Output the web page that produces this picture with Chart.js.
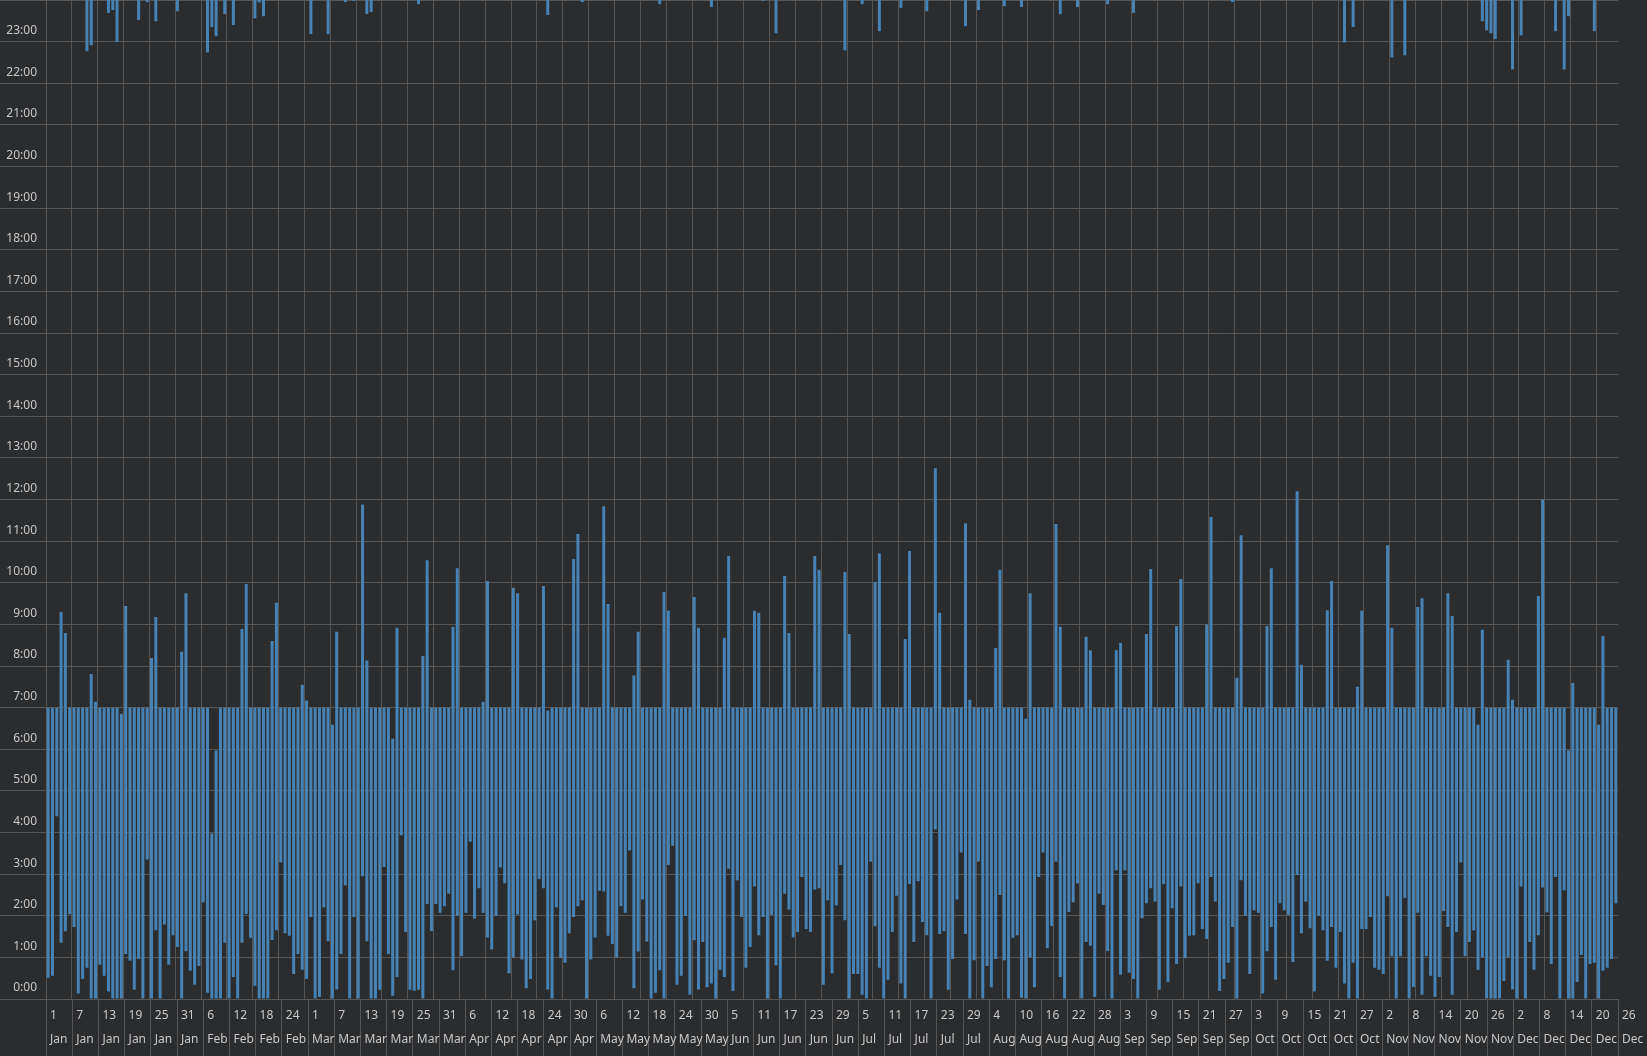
<!DOCTYPE html>
<html>
<head>
<meta charset="utf-8">
<script src="https://cdn.jsdelivr.net/npm/chart.js@4/dist/chart.umd.min.js"></script>
<style>
  html, body { margin: 0; padding: 0; background: #2b2c2e; }
  #wrap { width: 1647px; height: 1056px; position: relative; }
</style>
</head>
<body>
<div id="wrap"><canvas id="c"></canvas></div>
<script>
// Tick labels shown under the chart (every 6th day)
const tickLabels = ['1 Jan','7 Jan','13 Jan','19 Jan','25 Jan','31 Jan','6 Feb','12 Feb','18 Feb','24 Feb',
  '1 Mar','7 Mar','13 Mar','19 Mar','25 Mar','31 Mar','6 Apr','12 Apr','18 Apr','24 Apr','30 Apr',
  '6 May','12 May','18 May','24 May','30 May','5 Jun','11 Jun','17 Jun','23 Jun','29 Jun',
  '5 Jul','11 Jul','17 Jul','23 Jul','29 Jul','4 Aug','10 Aug','16 Aug','22 Aug','28 Aug',
  '3 Sep','9 Sep','15 Sep','21 Sep','27 Sep','3 Oct','9 Oct','15 Oct','21 Oct','27 Oct',
  '2 Nov','8 Nov','14 Nov','20 Nov','26 Nov','2 Dec','8 Dec','14 Dec','20 Dec','26 Dec'];

// Hour (0-24) at which sleep begins after midnight, one per day
const sleepStart = [
  0.51,0.56,4.39,1.35,1.63,2.04,1.73,0.13,0.48,0.75,
  0,0,0.82,0.56,0.18,0,0,0,1.08,0.92,
  0.22,0.96,0,3.35,0,1.65,0,1.79,0.82,1.53,
  1.25,0,1.15,0.68,0.34,0.79,2.32,0.15,0,0,
  0,1.35,0,0.53,0,1.35,2.04,1.47,0.32,0,
  0,0,1.42,1.65,3.28,1.58,1.52,0.6,1.08,0.7,
  0.48,1.97,0,0.05,2.2,1.39,0,0.23,1.08,2.73,
  0,1.97,0,2.95,1.39,0,0,0.22,3.17,1.08,
  0.08,0.53,3.93,1.61,0.22,0.2,0.22,0,2.28,1.63,
  2.28,2.07,2.23,2.53,0.69,2.0,1.03,2.07,3.78,1.93,
  2.66,2.07,1.48,1.19,2.0,3.16,2.78,0.62,1.0,2.03,
  0.95,0.26,0.48,1.89,2.88,2.66,0.23,0,2.2,0.98,
  0.87,1.58,1.97,2.23,2.37,0,0.95,1.48,2.6,2.58,
  1.52,1.32,1.0,2.23,2.07,3.57,0.26,1.14,2.39,1.38,
  0,0.15,0.69,0,3.22,3.68,0.34,0.56,2.0,0.1,
  1.41,0.23,1.37,0.28,0.37,0,0.7,0.53,3.13,0.19,
  2.85,1.97,0.75,1.25,2.7,1.53,1.97,0,2.02,0.81,
  0,2.53,2.15,1.48,1.61,2.93,1.68,1.61,2.63,2.66,
  0.34,2.37,0.62,2.25,3.22,1.89,0,0.6,0.6,0.1,
  0,3.3,1.75,0.75,0,0.46,1.61,2.48,0.37,0,
  2.76,1.37,2.83,1.85,1.53,0,4.07,1.56,1.63,0.22,
  0.96,2.39,3.52,1.56,0,0.93,3.3,0,0.79,0.28,
  0.96,2.5,0.93,0,1.47,1.53,0.03,0,1.0,0.28,
  2.93,3.52,1.22,1.75,3.3,0.53,0,2.09,2.32,2.78,
  0,1.37,1.28,0.05,2.53,2.26,1.15,0,3.09,0.58,
  3.09,0.63,0.48,0,1.94,2.3,2.66,2.34,0.22,2.76,
  0.41,2.18,0.84,2.7,0.98,1.52,1.53,2.78,1.68,1.44,
  2.93,2.34,0.19,0.48,0.87,1.73,0,2.85,2.0,0.6,
  2.13,2.07,0.13,1.15,1.73,0.46,2.3,2.13,2.02,0.89,
  2.98,1.58,2.34,1.7,0.18,2.0,1.65,0.92,1.73,0.75,
  1.61,0.37,0,0.87,0,1.68,1.68,1.97,0.75,0.7,
  0.6,2.47,1.03,0,1.03,2.43,0,0.29,2.07,0.1,
  1.03,0.56,0.05,0.53,2.11,1.73,0.1,1.61,3.28,1.03,
  1.37,1.65,0.7,1.0,0,0,0,0,0.43,1.0,
  0.23,0,2.7,0,1.37,0.7,1.53,2.68,2.08,0.84,
  2.93,0,2.61,0,0,0.41,1.06,0,0.84,0.87,
  0,0.68,0.75,0.96,2.3
];

// Hour at which sleep ends, one per day
const wakeTime = [
  7,7,7,9.3,8.79,7,7,7,7,7,
  7.81,7.14,7,7,7,7,7,6.85,9.44,7,
  7,7,7,7,8.19,9.18,7,7,7,7,
  7,8.34,9.75,7,7,7,7,7,3.98,5.97,
  7,7,7,7,7,8.89,9.97,7,7,7,
  7,7,8.6,9.52,7,7,7,7,7,7.55,
  7.17,7,7,7,7,7,6.59,8.82,7,7,
  7,7,7,11.88,8.13,7,7,7,7,7,
  6.25,8.92,7,7,7,7,7,8.24,10.54,7,
  7,7,7,7,8.94,10.35,7,7,7,7,
  7,7.14,10.04,7,7,7,7,7,9.88,9.75,
  7,7,7,7,7,9.92,6.93,7,7,7,
  7,7,10.57,11.17,7,7,7,7,7,11.84,
  9.49,7,7,7,7,7,7.77,8.82,7,7,
  7,7,7,9.78,9.33,7,7,7,7,7,
  9.66,8.92,7,7,7,7,7,8.68,10.64,7,
  7,7,7,7,9.33,9.28,7,7,7,7,
  7,10.16,8.79,7,7,7,7,7,10.64,10.31,
  7,7,7,7,7,10.26,8.77,7,7,7,
  7,7,10.02,10.71,7,7,7,7,7,8.65,
  10.76,7,7,7,7,7,12.75,9.28,7,7,
  7,7,7,11.43,7.19,7,7,7,7,7,
  8.43,10.31,7,7,7,7,7,6.73,9.75,7,
  7,7,7,7,11.41,8.94,7,7,7,7,
  7,8.7,8.38,7,7,7,7,7,8.38,8.55,
  7,7,7,7,7,8.77,10.33,7,7,7,
  7,7,8.96,10.09,7,7,7,7,7,9.0,
  11.58,7,7,7,7,7,7.72,11.14,7,7,
  7,7,7,8.96,10.35,7,7,7,7,7,
  12.2,8.03,7,7,7,7,7,9.34,10.04,7,
  7,7,7,7,7.5,9.33,7,7,7,7,
  7,10.9,8.92,7,7,7,7,7,9.42,9.63,
  7,7,7,7,7,9.75,9.2,7,7,7,
  7,7,6.59,8.87,7,7,7,7,7,8.15,
  7.19,7,7,7,7,7,9.68,12.0,7,7,
  7,7,7,5.97,7.59,7,7,7,7,7,
  6.59,8.72,7,7,7
];

// Days on which sleep began before midnight, and the hour it began
const eveningDays  = [9,10,14,15,16,21,23,25,30,37,38,39,41,43,48,49,50,61,65,69,71,74,75,86,
  116,124,142,154,166,169,185,189,193,198,204,213,216,222,226,235,239,246,252,275,
  301,303,312,315,333,334,335,336,340,342,350,352,353,359];
const eveningStart = [22.77,22.91,23.69,23.76,22.99,23.52,23.95,23.49,23.73,22.74,23.35,23.13,23.66,23.4,23.56,23.94,23.61,23.18,23.18,23.95,23.98,23.66,23.71,23.9,
  23.64,23.95,23.9,23.83,23.98,23.2,22.79,23.9,23.25,23.81,23.73,23.37,23.76,23.85,23.83,23.66,23.83,23.9,23.69,23.95,
  22.98,23.35,22.62,22.67,23.49,23.27,23.2,23.06,22.33,23.15,23.25,22.33,23.61,23.25];

const BAR = '#4682b4';
const GRID = '#565656';
const TEXT = '#c8c8c8';
const FONT = 'Noto Sans';

const nightBars = sleepStart.map((s, i) => ({ x: i + 0.5, y: [s, wakeTime[i]] }));
const eveningBars = eveningDays.map((d, j) => ({ x: d + 0.5, y: [eveningStart[j], 24] }));

const barStyle = {
  backgroundColor: BAR, borderWidth: 0, grouped: false,
  barPercentage: 0.7, categoryPercentage: 1.0, xAxisID: 'x', yAxisID: 'y'
};

new Chart(document.getElementById('c'), {
  type: 'bar',
  data: {
    datasets: [
      Object.assign({ label: 'sleep', data: nightBars }, barStyle),
      Object.assign({ label: 'evening', data: eveningBars }, barStyle)
    ]
  },
  options: {
    responsive: true,
    maintainAspectRatio: false,
    animation: false,
    layout: { padding: { left: 0, right: 29, top: 0, bottom: 0 } },
    plugins: { legend: { display: false }, tooltip: { enabled: false } },
    scales: {
      x: {
        type: 'linear', min: 0, max: sleepStart.length, position: 'bottom',
        offset: false,
        afterBuildTicks: (s) => {
          const t = [];
          for (let v = 0; v < sleepStart.length; v += 6) t.push({ value: v });
          s.ticks = t;
        },
        ticks: { display: false, stepSize: 6 },
        grid: { color: GRID, offset: false, drawTicks: false, lineWidth: 1 },
        border: { display: false }
      },
      x2: {
        type: 'category', position: 'bottom',
        labels: tickLabels.map(s => s.split(' ')),
        offset: false,
        grid: { drawOnChartArea: false, color: GRID, tickLength: 57, offset: false },
        border: { color: GRID },
        ticks: {
          autoSkip: false, maxRotation: 0, minRotation: 0, align: 'start',
          labelOffset: 4, padding: -52, color: TEXT,
          font: { family: FONT, size: 12, lineHeight: 2 }
        },
        afterFit: (s) => { s.height = 57; s.paddingLeft = 0; s.paddingRight = 0; }
      },
      y: {
        type: 'linear', min: 0, max: 24, position: 'left',
        ticks: {
          stepSize: 1, labelOffset: -11, padding: -37, color: TEXT,
          font: { family: FONT, size: 12 },
          callback: (v) => (v < 24 ? v + ':00' : '')
        },
        grid: { color: GRID, tickLength: 46 },
        border: { color: GRID },
        afterFit: (s) => { s.width = 46; s.paddingTop = 0; s.paddingBottom = 0; }
      }
    }
  }
});
</script>
</body>
</html>
